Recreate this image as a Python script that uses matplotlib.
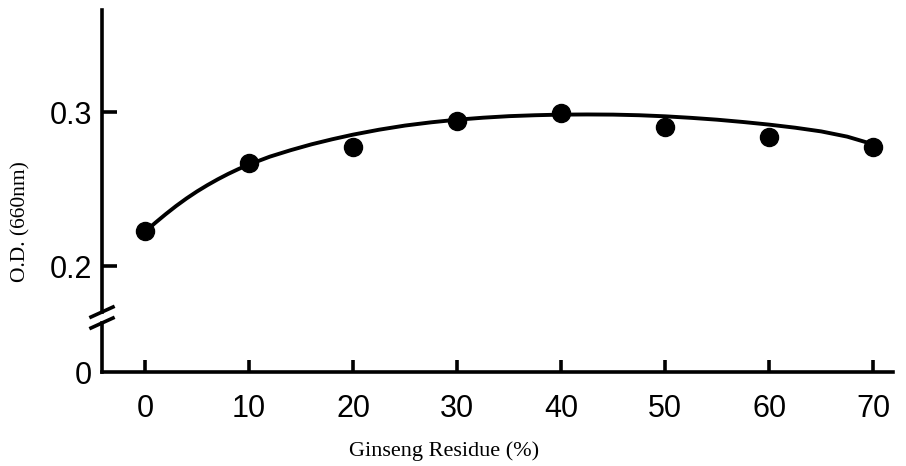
import numpy as np
import matplotlib
matplotlib.use("Agg")
import matplotlib.pyplot as plt

# measured points
residue = [0, 10, 20, 30, 40, 50, 60, 70]
od = [0.223, 0.267, 0.2775, 0.294, 0.2995, 0.290, 0.284, 0.2775]

# hand drawn trend curve
curve_x = [0, 1, 2, 3, 4, 5, 6, 7, 8, 9, 10, 12, 14, 16, 18, 20, 22.5, 25,
           27.5, 30, 32.5, 35, 37.5, 40, 42.5, 45, 47.5, 50, 52.5, 55, 57.5,
           60, 62.5, 65, 67.5, 70]
curve_y = [0.2222, 0.2281, 0.2337, 0.2390, 0.2439, 0.2484, 0.2525, 0.2563,
           0.2598, 0.2630, 0.2659, 0.2710, 0.2752, 0.2790, 0.2823, 0.2853,
           0.2885, 0.2912, 0.2933, 0.2950, 0.2963, 0.2973, 0.2979, 0.2983,
           0.2984, 0.2983, 0.2979, 0.2972, 0.2962, 0.2950, 0.2935, 0.2918,
           0.2898, 0.2874, 0.2840, 0.2790]

x_ticks = [0, 10, 20, 30, 40, 50, 60, 70]
y_ticks = [0.2, 0.3]
y_tick_labels = ["0.2", "0.3"]

tick_font = ["Liberation Sans Narrow", "Liberation Sans", "DejaVu Sans"]
label_font = ["Liberation Serif", "DejaVu Serif"]
lw = 2.6

fig = plt.figure(figsize=(9.06, 4.66), dpi=100)
W, H = 906, 466

# axes placement in pixels
left, right = 102, 893
top_px, brk_top, brk_bot, base = 10, 312, 323, 372
ax = fig.add_axes([left / W, (H - brk_top) / H, (right - left) / W, (brk_top - top_px) / H])
axb = fig.add_axes([left / W, (H - base) / H, (right - left) / W, (base - brk_bot) / H], sharex=ax)

px_per_unit = 1540.0  # pixels per 1.0 of O.D.
ax.set_ylim(0.2 - (brk_top - 266) / px_per_unit, 0.3 + (112 - top_px) / px_per_unit)
axb.set_ylim(0, (base - brk_bot) / px_per_unit)
ax.set_xlim(-4.13, 71.9)

ax.plot(curve_x, curve_y, color="black", lw=2.8, solid_capstyle="round",
        solid_joinstyle="round", zorder=2)
ax.plot(residue, od, "o", color="black", ms=13, zorder=3)

for a in (ax, axb):
    for s in a.spines.values():
        s.set_visible(False)
    a.spines["left"].set_visible(True)
    a.spines["left"].set_linewidth(lw)
    a.set_facecolor("none")
axb.spines["bottom"].set_visible(True)
axb.spines["bottom"].set_linewidth(lw)

ax.set_yticks(y_ticks)
ax.set_yticklabels(y_tick_labels, fontfamily=tick_font, fontsize=22)
ax.tick_params(axis="y", direction="in", length=11, width=lw, pad=7)
ax.tick_params(axis="x", bottom=False, labelbottom=False)

axb.set_yticks([0])
axb.set_yticklabels(["0"], fontfamily=tick_font, fontsize=22)
axb.tick_params(axis="y", length=0, pad=7)
axb.set_xticks(x_ticks)
axb.set_xticklabels([str(v) for v in x_ticks], fontfamily=tick_font, fontsize=22)
axb.tick_params(axis="x", direction="in", length=9, width=lw, pad=16)

# break marks on the y axis
for a, yfrac in ((ax, 0.0), (axb, 1.0)):
    w_ax = (right - left)
    h_ax = (brk_top - top_px) if a is ax else (base - brk_bot)
    dx, dy = 11 / w_ax, 5 / h_ax
    a.plot([-dx, dx], [yfrac - dy, yfrac + dy], transform=a.transAxes,
           color="black", lw=lw, clip_on=False)

fig.text(444 / W, (H - 451) / H, "Ginseng Residue (%)", ha="center", va="center",
         fontfamily=label_font, fontsize=16)
fig.text(21 / W, (H - 222) / H, "O.D. (660nm)", ha="center", va="center",
         rotation=90, fontfamily=label_font, fontsize=15.5)

fig.savefig("out.png", dpi=100, facecolor="white")
